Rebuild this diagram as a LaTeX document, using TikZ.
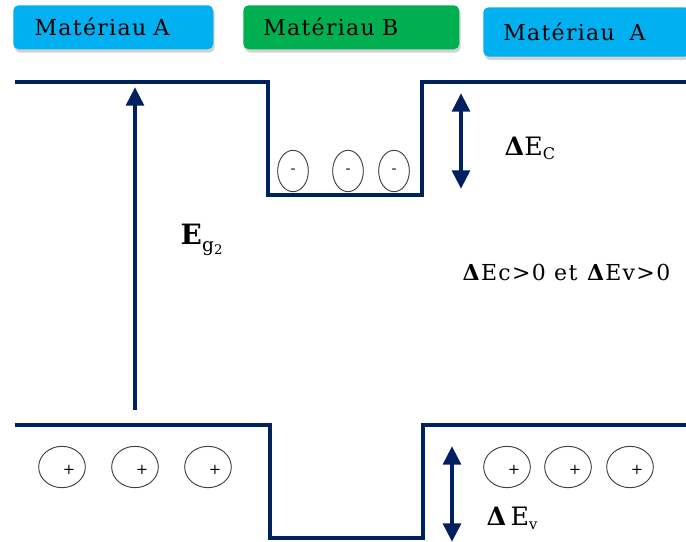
\documentclass[tikz,border=0pt]{standalone}
\usepackage{fontspec}
\setmainfont{DejaVu Serif}
\newfontfamily\largefont[LetterSpace=6]{DejaVu Serif}
\usetikzlibrary{arrows.meta,shapes.geometric,shadows}

\definecolor{bande}{RGB}{0,32,96}
\definecolor{matA}{RGB}{0,176,240}
\definecolor{matB}{RGB}{0,176,80}

\tikzset{
  materiau/.style={rounded corners=4pt, minimum height=33pt, anchor=north west,
    inner sep=0pt, font=\largefont\fontsize{16.5}{18}\selectfont,
    drop shadow={opacity=0.35, shadow xshift=1pt, shadow yshift=-2.5pt}},
  bandline/.style={draw=bande, line width=3pt},
  fleche/.style={draw=bande, line width=3.5pt, -{Triangle[width=13pt,length=14pt]}},
  dfleche/.style={draw=bande, line width=3.5pt, {Triangle[width=13pt,length=14pt]}-{Triangle[width=13pt,length=14pt]}},
  porteur/.style={ellipse, draw=black!75, line width=0.7pt, inner sep=0pt},
  signe/.style={inner sep=0pt, font=\fontsize{11}{11}\selectfont},
  etiquette/.style={font=\largefont\fontsize{16.5}{18}\selectfont}
}

\begin{document}
\begin{tikzpicture}[x=0.75pt, y=-0.75pt]
  \useasboundingbox (0,0) rectangle (686,542);

  % matériaux
  \node[materiau, fill=matA, minimum width=150pt, text width=150pt, align=left]
    (matA1) at (13,5) {\hspace{16pt}Matériau A};
  \node[materiau, fill=matB, minimum width=162pt, text width=162pt, align=left]
    (matB) at (243,5) {\hspace{15pt}Matériau B\par\vspace{4pt}};
  \node[materiau, fill=matA, minimum width=155pt, text width=155pt, align=left,
    minimum height=37pt] (matA2) at (483,7) {\hspace{15pt}Matériau\ \ A};

  % bande de conduction
  \coordinate (bc1) at (15,82);
  \coordinate (bc2) at (268,82);
  \coordinate (bc3) at (268,195);
  \coordinate (bc4) at (422,195);
  \coordinate (bc5) at (422,82);
  \coordinate (bc6) at (686,82);
  \draw[bandline] (bc1) -- (bc2) -- (bc3) -- (bc4) -- (bc5) -- (bc6);

  % bande de valence
  \coordinate (bv1) at (15,425);
  \coordinate (bv2) at (270,425);
  \coordinate (bv3) at (270,538);
  \coordinate (bv4) at (423,538);
  \coordinate (bv5) at (423,425);
  \coordinate (bv6) at (686,425);
  \draw[bandline] (bv1) -- (bv2) -- (bv3) -- (bv4) -- (bv5) -- (bv6);

  % fleches
  \coordinate (eg0) at (135,410);
  \coordinate (eg1) at (135,87);
  \draw[fleche] (eg0) -- (eg1);
  \coordinate (dc0) at (461,93);
  \coordinate (dc1) at (461,189);
  \draw[dfleche] (dc0) -- (dc1);
  \coordinate (dv0) at (452,446);
  \coordinate (dv1) at (452,542);
  \draw[dfleche] (dv0) -- (dv1);

  % etiquettes
  \node[anchor=west, font=\fontsize{21}{23}\selectfont] (lEg) at (176,240)
    {\textbf{E}\raisebox{-5pt}{\fontsize{14}{14}\selectfont g\raisebox{-2pt}{\fontsize{10}{10}\selectfont 2}}};
  \node[anchor=west, font=\fontsize{19}{21}\selectfont] (lEc) at (500,148)
    {\textbf{Δ}E\raisebox{-3pt}{\fontsize{12}{12}\selectfont C}};
  \node[anchor=west, font=\fontsize{19}{21}\selectfont] (lEv) at (482,518)
    {\textbf{Δ}\,E\raisebox{-3pt}{\fontsize{11}{11}\selectfont v}};
  \node[etiquette, anchor=west] (lcond) at (458,272)
    {\textbf{Δ}Ec>0 et \textbf{Δ}Ev>0};

  % electrons
  \foreach \x [count=\i] in {293,348,394}{
    \node[porteur, minimum width=23pt, minimum height=31pt] (e\i) at (\x,171) {};
    \node[signe] (se\i) at (e\i.center) {-};
  }

  % trous
  \foreach \x [count=\i] in {62,135,208,507,568,630}{
    \node[porteur, minimum width=35pt, minimum height=31pt] (t\i) at (\x,467) {};
    \node[signe] (st\i) at ([shift={(7,3)}]t\i.center) {+};
  }
\end{tikzpicture}
\end{document}
